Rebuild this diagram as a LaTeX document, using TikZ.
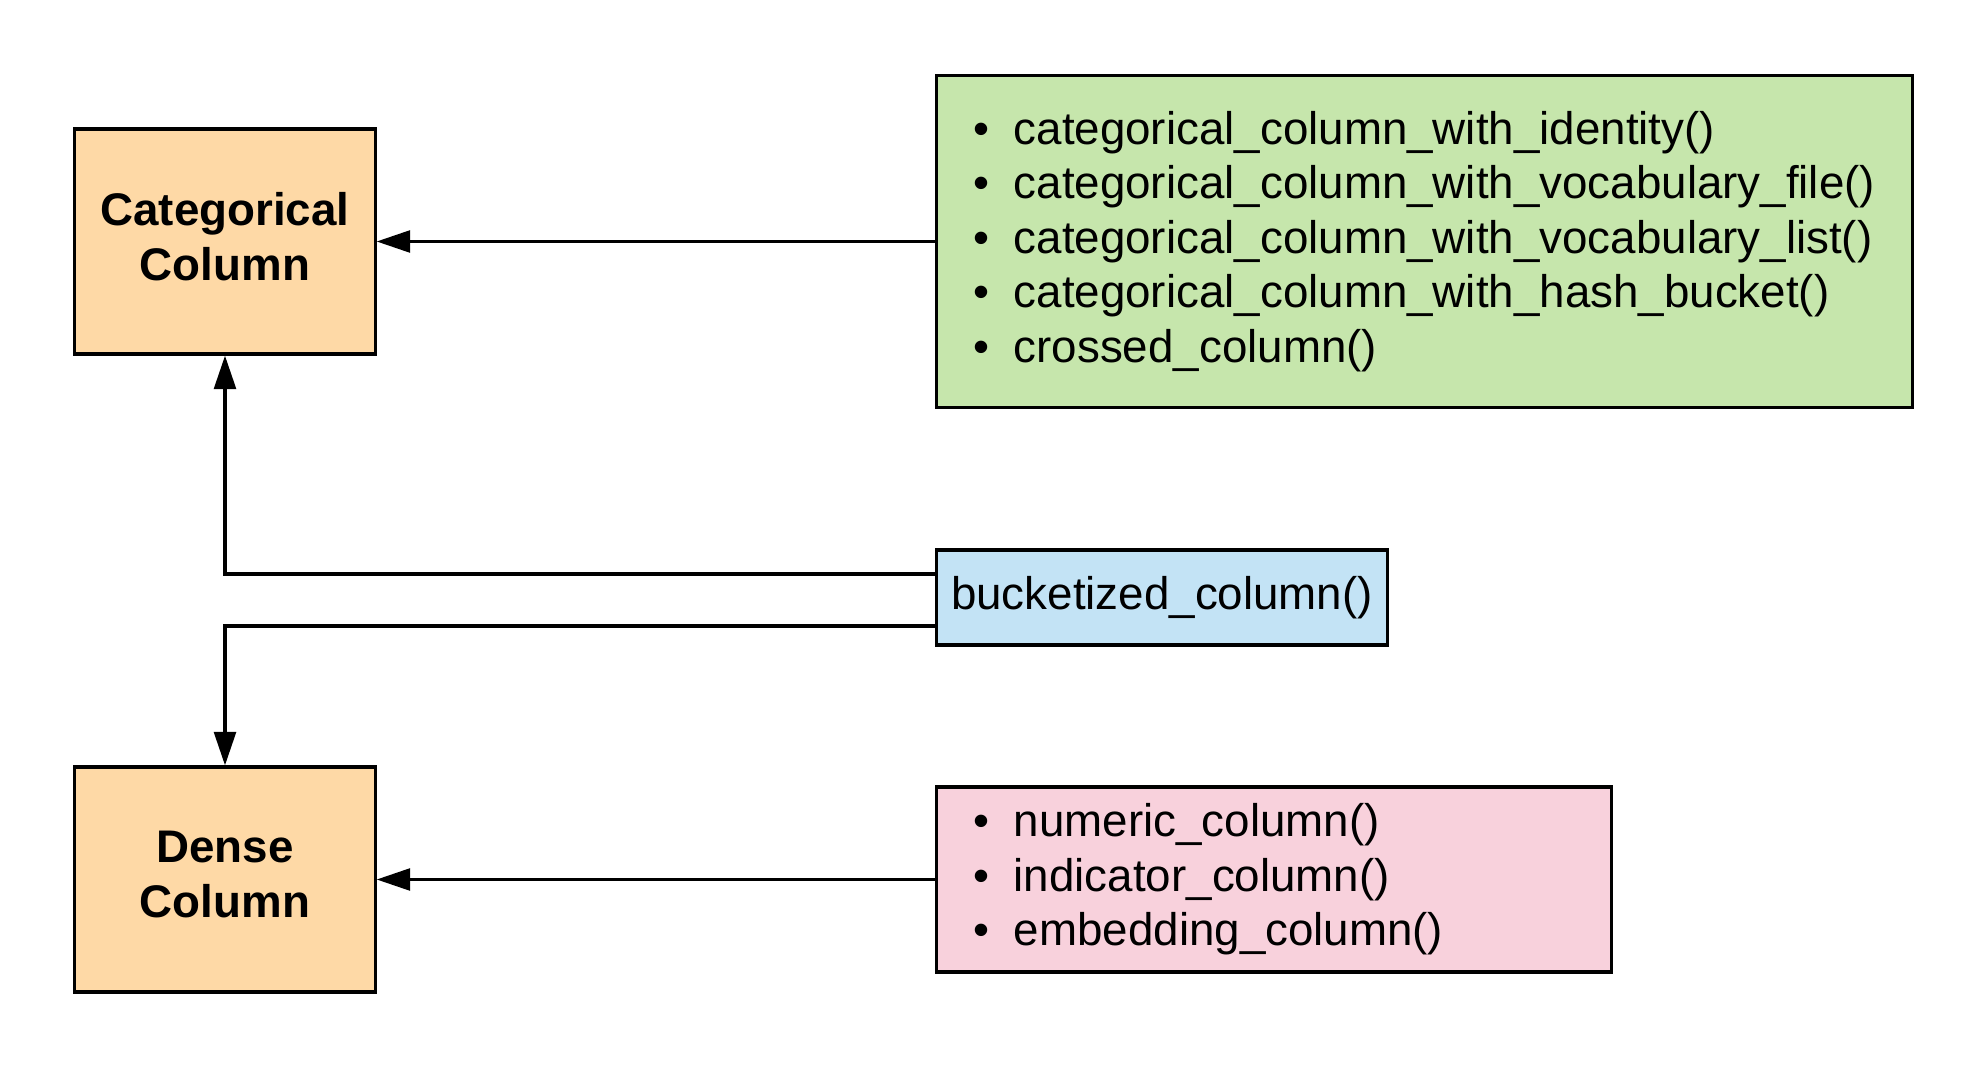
\documentclass[tikz,border=0pt]{standalone}
\usepackage{fontspec}
\setmainfont{Liberation Sans}
\usetikzlibrary{arrows.meta}
\definecolor{orangeF}{HTML}{FED9A6}
\definecolor{greenF}{HTML}{C6E6AC}
\definecolor{blueF}{HTML}{C3E3F5}
\definecolor{pinkF}{HTML}{F8D1DC}
\newcommand{\bul}{\makebox[0.4cm][l]{•}}
\begin{document}
\begin{tikzpicture}[x=0.01cm,y=-0.01cm,
  every node/.style={font=\fontsize{13}{15.5}\selectfont},
  box/.style={draw=black, line width=0.9pt, inner sep=0pt},
  mainbox/.style={box, fill=orangeF, minimum width=3cm, minimum height=2.25cm, align=center, text depth=0.1cm, font=\fontsize{13}{15.5}\selectfont\bfseries},
  listbox/.style={box, align=left, inner xsep=0.37cm, inner ysep=0pt},
  arr/.style={line width=0.9pt, -{Triangle[length=9.5pt,width=6.2pt]}}]
\useasboundingbox (0,0) rectangle (1988,1067);
\node[mainbox] (cat) at (225,241.5) {Categorical\\Column};
\node[mainbox] (dense) at (225,879.5) {Dense\\Column};
\node[listbox, fill=greenF, text width=9.01cm, minimum height=3.31cm] (green) at (1424.5,241.5)
  {\bul categorical\_column\_with\_identity()\\
   \bul categorical\_column\_with\_vocabulary\_file()\\
   \bul categorical\_column\_with\_vocabulary\_list()\\
   \bul categorical\_column\_with\_hash\_bucket()\\
   \bul crossed\_column()};
\node[box, fill=blueF, minimum width=4.5cm, minimum height=0.95cm] (blue) at (1162,597.5) {bucketized\_column()};
\node[listbox, fill=pinkF, text width=6.00cm, minimum height=1.85cm] (pink) at (1274,879.5)
  {\bul numeric\_column()\\
   \bul indicator\_column()\\
   \bul embedding\_column()};
\draw[arr] (green.west) -- (cat.east);
\draw[arr] (pink.west) -- (dense.east);
\draw[arr] ([yshift=0.235cm]blue.west) -| (cat.south);
\draw[arr] ([yshift=-0.285cm]blue.west) -| (dense.north);
\end{tikzpicture}
\end{document}
